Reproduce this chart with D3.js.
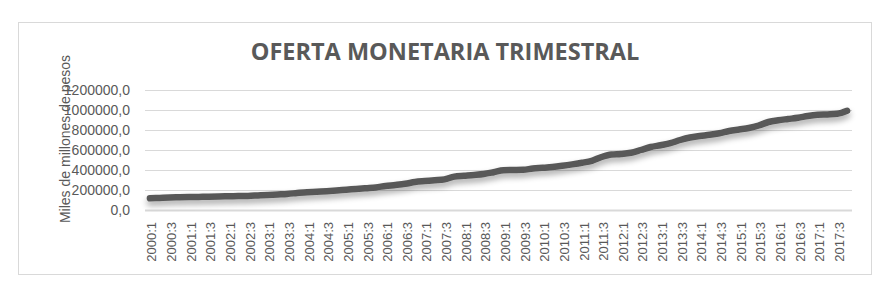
<!DOCTYPE html>
<html>
<head>
<meta charset="utf-8">
<script src="https://cdn.jsdelivr.net/npm/d3@7"></script>
<style>
  body { margin: 0; background: #fff; }
  svg { display: block; }
</style>
</head>
<body>
<svg id="chart"></svg>
<script>
// quarters 2000:1 .. 2017:4
const years = d3.range(2000, 2018);
const quarters = years.flatMap(y => [1, 2, 3, 4].map(q => `${y}:${q}`));

// money supply, miles de millones de pesos
const moneySupply = [
  117000, 121000, 125000, 127000,
  129000, 131000, 133000, 135000,
  137000, 139000, 141000, 146000,
  151000, 156000, 161000, 170000,
  178000, 182000, 188000, 195000,
  203000, 210000, 218000, 226000,
  240000, 250000, 262000, 280000,
  289000, 297000, 306000, 334000,
  342000, 350000, 360000, 378000,
  398000, 400000, 402000, 415000,
  422000, 430000, 442000, 456000,
  472000, 492000, 530000, 555000,
  560000, 572000, 600000, 630000,
  648000, 668000, 700000, 725000,
  740000, 752000, 768000, 790000,
  805000, 820000, 845000, 880000,
  898000, 910000, 922000, 940000,
  952000, 956000, 962000, 992000
];

const yTicks = [0, 200000, 400000, 600000, 800000, 1000000, 1200000];
const title = 'OFERTA MONETARIA TRIMESTRAL';
const yTitle = 'Miles de millones de pesos';

const width = 892, height = 297;
const plot = { left: 145, right: 852, top: 90, bottom: 210 };
const textColor = '#595959';

const svg = d3.select('#chart').attr('width', width).attr('height', height);

// shadow under the line
const defs = svg.append('defs');
const f = defs.append('filter').attr('id', 'shadow')
  .attr('x', '-5%').attr('y', '-50%').attr('width', '110%').attr('height', '200%');
f.append('feGaussianBlur').attr('in', 'SourceAlpha').attr('stdDeviation', 3).attr('result', 'blur');
f.append('feOffset').attr('in', 'blur').attr('dx', 0).attr('dy', 4).attr('result', 'off');
f.append('feComponentTransfer').attr('in', 'off').attr('result', 'sh')
  .append('feFuncA').attr('type', 'linear').attr('slope', 0.35);
const merge = f.append('feMerge');
merge.append('feMergeNode').attr('in', 'sh');
merge.append('feMergeNode').attr('in', 'SourceGraphic');

// chart frame
svg.append('rect')
  .attr('x', 18.5).attr('y', 22.5).attr('width', 853).attr('height', 252)
  .attr('fill', '#fff').attr('stroke', '#d9d9d9').attr('stroke-width', 1);

const x = d3.scalePoint().domain(quarters).range([plot.left, plot.right]).padding(0.5);
const y = d3.scaleLinear().domain([0, 1200000]).range([plot.bottom, plot.top]);

// grid lines
svg.append('g')
  .selectAll('line')
  .data(yTicks.filter(d => d > 0))
  .join('line')
  .attr('x1', plot.left).attr('x2', plot.right)
  .attr('y1', d => Math.round(y(d)) + 0.5).attr('y2', d => Math.round(y(d)) + 0.5)
  .attr('stroke', '#d9d9d9').attr('stroke-width', 1);

// y axis labels
const yAxis = svg.append('g')
  .attr('transform', `translate(${plot.left - 15},0)`)
  .call(d3.axisLeft(y).tickValues(yTicks).tickSize(0).tickPadding(0)
    .tickFormat(d => d3.format('d')(d) + ',0'));
yAxis.select('.domain').remove();
yAxis.selectAll('text')
  .attr('fill', textColor)
  .attr('font-family', 'Liberation Sans, Arial, sans-serif')
  .attr('font-size', '14px')
  .attr('dy', '0.35em');

// x axis
const xAxis = svg.append('g')
  .attr('transform', `translate(0,${plot.bottom})`)
  .call(d3.axisBottom(x)
    .tickValues(quarters.filter((d, i) => i % 2 === 0))
    .tickSize(0).tickPadding(0));
xAxis.select('.domain')
  .attr('d', `M${plot.left},0.5H${plot.right}`)
  .attr('stroke', '#d9d9d9').attr('stroke-width', 2);
xAxis.selectAll('text')
  .attr('fill', textColor)
  .attr('font-family', 'Liberation Sans, Arial, sans-serif')
  .attr('font-size', '13px')
  .attr('text-anchor', 'end')
  .attr('dy', '0.35em')
  .attr('transform', 'translate(1.5,12) rotate(-90)')
  .attr('y', 0);

// line
const line = d3.line()
  .x((d, i) => x(quarters[i]))
  .y(d => y(d))
  .curve(d3.curveMonotoneX);

svg.append('path')
  .datum(moneySupply)
  .attr('d', line)
  .attr('fill', 'none')
  .attr('stroke', '#595959')
  .attr('stroke-width', 6.5)
  .attr('stroke-linecap', 'round')
  .attr('stroke-linejoin', 'round')
  .attr('filter', 'url(#shadow)');

// title
svg.append('text')
  .attr('x', 445).attr('y', 52)
  .attr('text-anchor', 'middle').attr('dy', '0.35em')
  .attr('font-family', 'Open Sans, sans-serif')
  .attr('font-weight', 'bold')
  .attr('font-size', '23.5px')
  .attr('fill', textColor)
  .text(title);

// y title
svg.append('text')
  .attr('transform', 'translate(65,139) rotate(-90)')
  .attr('text-anchor', 'middle').attr('dy', '0.35em')
  .attr('font-family', 'Liberation Sans, Arial, sans-serif')
  .attr('font-size', '14px')
  .attr('fill', textColor)
  .text(yTitle);
</script>
</body>
</html>
